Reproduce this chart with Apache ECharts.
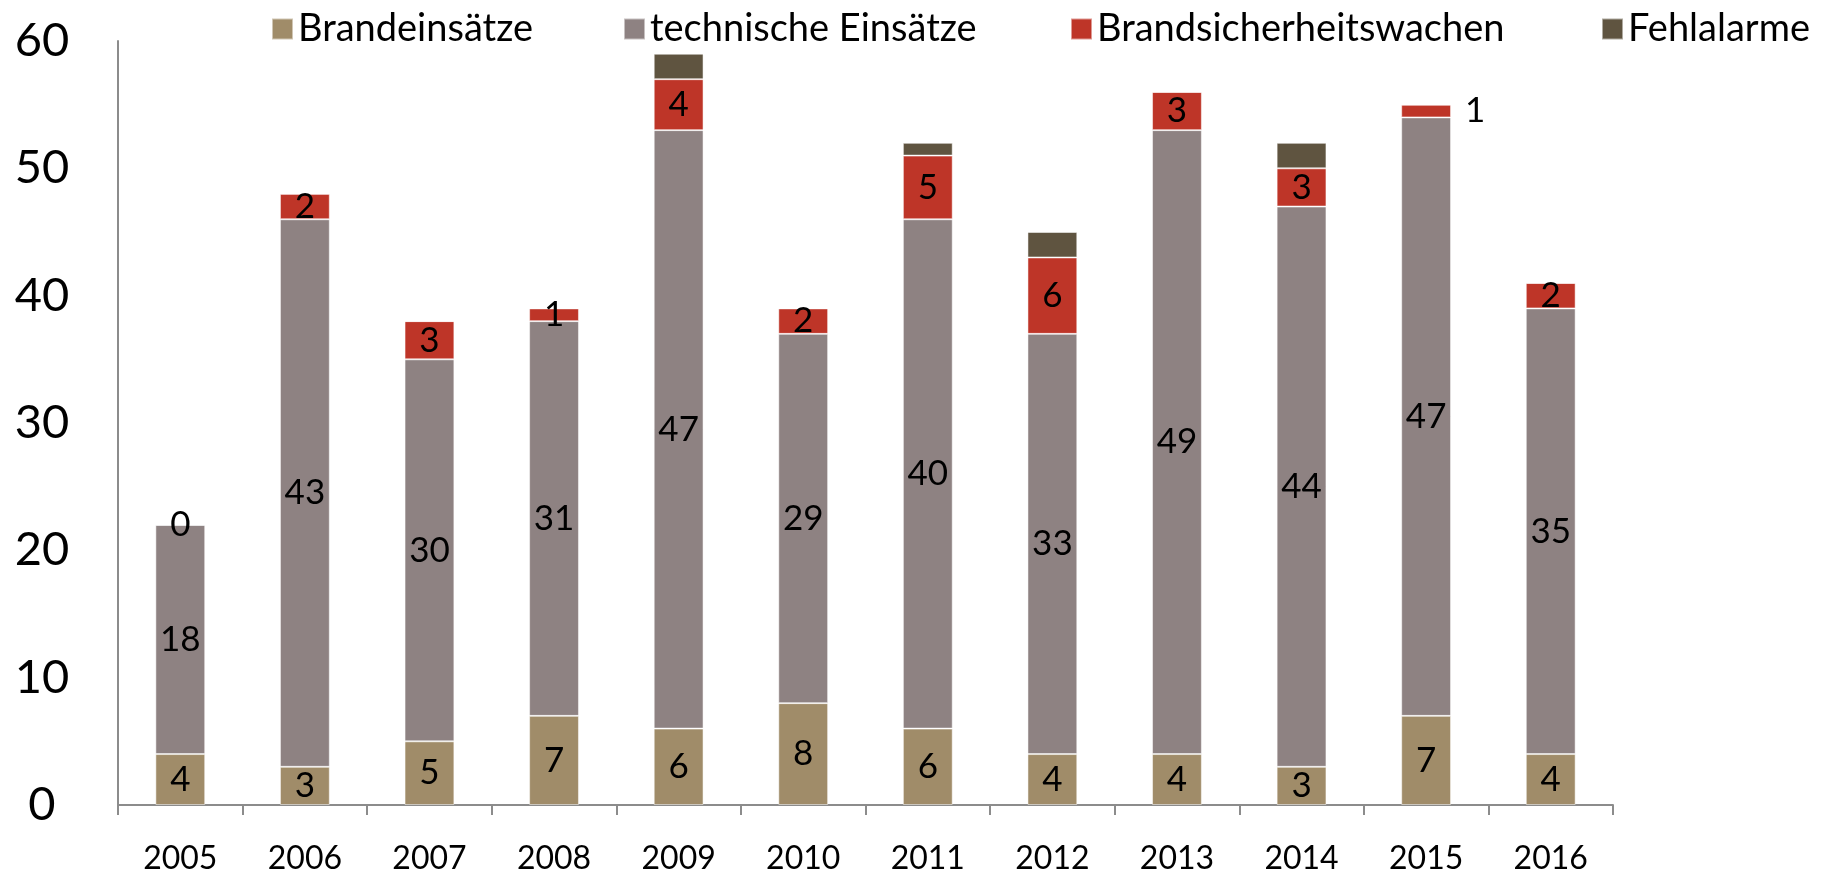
<!DOCTYPE html>
<html>
<head>
<meta charset="utf-8">
<script src="https://cdn.jsdelivr.net/npm/echarts@6/dist/echarts.min.js"></script>
<style>
  html, body { margin: 0; padding: 0; background: #fff; }
  #main { width: 1829px; height: 871px; }
</style>
</head>
<body>
<div id="main"></div>
<script>
// Jahre und Einsatzzahlen
var years = ['2005', '2006', '2007', '2008', '2009', '2010', '2011', '2012', '2013', '2014', '2015', '2016'];
var brandeinsaetze = [4, 3, 5, 7, 6, 8, 6, 4, 4, 3, 7, 4];
var technische = [18, 43, 30, 31, 47, 29, 40, 33, 49, 44, 47, 35];
var wachen = [0, 2, 3, 1, 4, 2, 5, 6, 3, 3, 1, 2];
var fehlalarme = [0, 0, 0, 0, 2, 0, 1, 2, 0, 2, 0, 0];
var names = ['Brandeinsätze', 'technische Einsätze', 'Brandsicherheitswachen', 'Fehlalarme'];
var colors = ['#A08C69', '#8E8282', '#BE3528', '#5F5440'];

var font = 'Lato';
var myChart = echarts.init(document.getElementById('main'));

// Legende: je ein Eintrag, damit die Abstände wie im Original stimmen
var legendLeft = [266, 618, 1065, 1596];
var legends = [];
for (var i = 0; i < names.length; i++) {
    legends.push({
        data: [names[i]],
        left: legendLeft[i],
        top: 5,
        itemWidth: 21,
        itemHeight: 21,
        itemGap: 12,
        icon: 'rect',
        textStyle: { fontFamily: font, fontSize: 38, color: '#000' }
    });
}

var labelStyle = { show: true, position: 'inside', fontFamily: font, fontSize: 35, color: '#000' };
var border = { borderColor: 'rgba(255,255,255,0.5)', borderWidth: 1 };

// 2015: Beschriftung rechts neben dem Balken
var wachenData = wachen.map(function (v, i) {
    if (years[i] === '2015') {
        return { value: v, label: { position: 'right', distance: 14 } };
    }
    return v;
});

option = {
    animation: false,
    textStyle: { fontFamily: font },
    legend: legends,
    grid: { left: 118, right: 216, top: 41, bottom: 66, outerBoundsMode: 'none' },
    xAxis: {
        type: 'category',
        data: years,
        axisLine: { lineStyle: { color: '#8c8c8c', width: 2 } },
        axisTick: { show: true, length: 10, lineStyle: { color: '#8c8c8c', width: 2 } },
        axisLabel: { fontFamily: font, fontSize: 32, color: '#000', margin: 38 }
    },
    yAxis: {
        type: 'value',
        min: 0,
        max: 60,
        interval: 10,
        axisLine: { show: true, lineStyle: { color: '#8c8c8c', width: 2 } },
        axisTick: { show: false },
        splitLine: { show: false },
        axisLabel: { fontFamily: font, fontSize: 47, color: '#000', align: 'center', margin: 76 }
    },
    series: [
        {
            name: names[0], type: 'bar', stack: 'total', barWidth: '40%',
            itemStyle: Object.assign({ color: colors[0] }, border),
            label: labelStyle,
            data: brandeinsaetze
        },
        {
            name: names[1], type: 'bar', stack: 'total',
            itemStyle: Object.assign({ color: colors[1] }, border),
            label: labelStyle,
            data: technische
        },
        {
            name: names[2], type: 'bar', stack: 'total',
            itemStyle: Object.assign({ color: colors[2] }, border),
            label: labelStyle,
            data: wachenData
        },
        {
            name: names[3], type: 'bar', stack: 'total',
            itemStyle: Object.assign({ color: colors[3] }, border),
            data: fehlalarme
        }
    ]
};
myChart.setOption(option);
</script>
</body>
</html>
